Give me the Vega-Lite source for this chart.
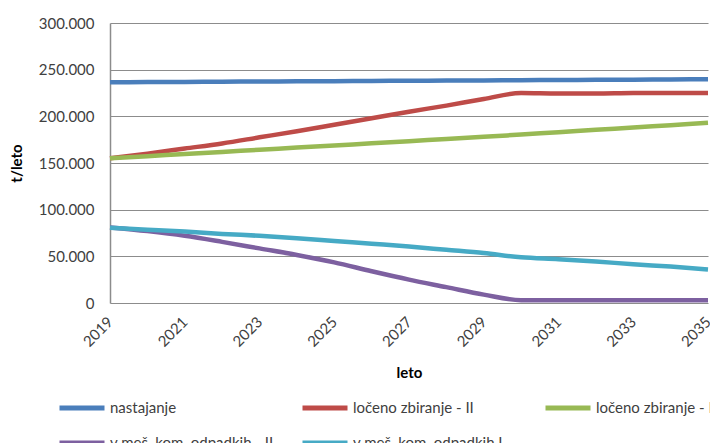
{
  "$schema": "https://vega.github.io/schema/vega-lite/v6.json",
  "width": 598,
  "height": 280,
  "autosize": {"type": "none"},
  "padding": {"left": 110, "top": 23, "right": 2, "bottom": 140},
  "background": "white",
  "config": {
    "font": "Lato",
    "view": {"stroke": null},
    "axis": {"labelFont": "Lato", "titleFont": "Lato", "labelColor": "#404040", "titleColor": "#000000"}
  },
  "datasets": {
    "d": [
      {"leto": 2019, "s": "nastajanje", "v": 236500},
      {"leto": 2020, "s": "nastajanje", "v": 236700},
      {"leto": 2021, "s": "nastajanje", "v": 236900},
      {"leto": 2022, "s": "nastajanje", "v": 237100},
      {"leto": 2023, "s": "nastajanje", "v": 237300},
      {"leto": 2024, "s": "nastajanje", "v": 237500},
      {"leto": 2025, "s": "nastajanje", "v": 237700},
      {"leto": 2026, "s": "nastajanje", "v": 237900},
      {"leto": 2027, "s": "nastajanje", "v": 238100},
      {"leto": 2028, "s": "nastajanje", "v": 238300},
      {"leto": 2029, "s": "nastajanje", "v": 238500},
      {"leto": 2030, "s": "nastajanje", "v": 238700},
      {"leto": 2031, "s": "nastajanje", "v": 238900},
      {"leto": 2032, "s": "nastajanje", "v": 239100},
      {"leto": 2033, "s": "nastajanje", "v": 239300},
      {"leto": 2034, "s": "nastajanje", "v": 239500},
      {"leto": 2035, "s": "nastajanje", "v": 239800},
      {"leto": 2019, "s": "ločeno zbiranje - II", "v": 155000},
      {"leto": 2020, "s": "ločeno zbiranje - II", "v": 160000},
      {"leto": 2021, "s": "ločeno zbiranje - II", "v": 165500},
      {"leto": 2022, "s": "ločeno zbiranje - II", "v": 171000},
      {"leto": 2023, "s": "ločeno zbiranje - II", "v": 177500},
      {"leto": 2024, "s": "ločeno zbiranje - II", "v": 184000},
      {"leto": 2025, "s": "ločeno zbiranje - II", "v": 191000},
      {"leto": 2026, "s": "ločeno zbiranje - II", "v": 198000},
      {"leto": 2027, "s": "ločeno zbiranje - II", "v": 205000},
      {"leto": 2028, "s": "ločeno zbiranje - II", "v": 211500},
      {"leto": 2029, "s": "ločeno zbiranje - II", "v": 218500},
      {"leto": 2030, "s": "ločeno zbiranje - II", "v": 225000},
      {"leto": 2031, "s": "ločeno zbiranje - II", "v": 224500},
      {"leto": 2032, "s": "ločeno zbiranje - II", "v": 224500},
      {"leto": 2033, "s": "ločeno zbiranje - II", "v": 225000},
      {"leto": 2034, "s": "ločeno zbiranje - II", "v": 225000},
      {"leto": 2035, "s": "ločeno zbiranje - II", "v": 225000},
      {"leto": 2019, "s": "ločeno zbiranje - I", "v": 155000},
      {"leto": 2020, "s": "ločeno zbiranje - I", "v": 157300},
      {"leto": 2021, "s": "ločeno zbiranje - I", "v": 159600},
      {"leto": 2022, "s": "ločeno zbiranje - I", "v": 161900},
      {"leto": 2023, "s": "ločeno zbiranje - I", "v": 164200},
      {"leto": 2024, "s": "ločeno zbiranje - I", "v": 166500},
      {"leto": 2025, "s": "ločeno zbiranje - I", "v": 168800},
      {"leto": 2026, "s": "ločeno zbiranje - I", "v": 171100},
      {"leto": 2027, "s": "ločeno zbiranje - I", "v": 173400},
      {"leto": 2028, "s": "ločeno zbiranje - I", "v": 175700},
      {"leto": 2029, "s": "ločeno zbiranje - I", "v": 178000},
      {"leto": 2030, "s": "ločeno zbiranje - I", "v": 180500},
      {"leto": 2031, "s": "ločeno zbiranje - I", "v": 183000},
      {"leto": 2032, "s": "ločeno zbiranje - I", "v": 185500},
      {"leto": 2033, "s": "ločeno zbiranje - I", "v": 188000},
      {"leto": 2034, "s": "ločeno zbiranje - I", "v": 190500},
      {"leto": 2035, "s": "ločeno zbiranje - I", "v": 193000},
      {"leto": 2019, "s": "v meš. kom. odpadkih - II", "v": 81000},
      {"leto": 2020, "s": "v meš. kom. odpadkih - II", "v": 77000},
      {"leto": 2021, "s": "v meš. kom. odpadkih - II", "v": 72000},
      {"leto": 2022, "s": "v meš. kom. odpadkih - II", "v": 65500},
      {"leto": 2023, "s": "v meš. kom. odpadkih - II", "v": 58500},
      {"leto": 2024, "s": "v meš. kom. odpadkih - II", "v": 51500},
      {"leto": 2025, "s": "v meš. kom. odpadkih - II", "v": 43500},
      {"leto": 2026, "s": "v meš. kom. odpadkih - II", "v": 34000},
      {"leto": 2027, "s": "v meš. kom. odpadkih - II", "v": 25000},
      {"leto": 2028, "s": "v meš. kom. odpadkih - II", "v": 17000},
      {"leto": 2029, "s": "v meš. kom. odpadkih - II", "v": 9000},
      {"leto": 2030, "s": "v meš. kom. odpadkih - II", "v": 3000},
      {"leto": 2031, "s": "v meš. kom. odpadkih - II", "v": 3000},
      {"leto": 2032, "s": "v meš. kom. odpadkih - II", "v": 3000},
      {"leto": 2033, "s": "v meš. kom. odpadkih - II", "v": 3000},
      {"leto": 2034, "s": "v meš. kom. odpadkih - II", "v": 3000},
      {"leto": 2035, "s": "v meš. kom. odpadkih - II", "v": 3000},
      {"leto": 2019, "s": "v meš. kom. odpadkih I", "v": 80500},
      {"leto": 2020, "s": "v meš. kom. odpadkih I", "v": 78500},
      {"leto": 2021, "s": "v meš. kom. odpadkih I", "v": 76500},
      {"leto": 2022, "s": "v meš. kom. odpadkih I", "v": 74000},
      {"leto": 2023, "s": "v meš. kom. odpadkih I", "v": 72000},
      {"leto": 2024, "s": "v meš. kom. odpadkih I", "v": 69500},
      {"leto": 2025, "s": "v meš. kom. odpadkih I", "v": 66500},
      {"leto": 2026, "s": "v meš. kom. odpadkih I", "v": 63500},
      {"leto": 2027, "s": "v meš. kom. odpadkih I", "v": 60500},
      {"leto": 2028, "s": "v meš. kom. odpadkih I", "v": 57000},
      {"leto": 2029, "s": "v meš. kom. odpadkih I", "v": 53500},
      {"leto": 2030, "s": "v meš. kom. odpadkih I", "v": 49000},
      {"leto": 2031, "s": "v meš. kom. odpadkih I", "v": 47000},
      {"leto": 2032, "s": "v meš. kom. odpadkih I", "v": 44500},
      {"leto": 2033, "s": "v meš. kom. odpadkih I", "v": 41500},
      {"leto": 2034, "s": "v meš. kom. odpadkih I", "v": 39000},
      {"leto": 2035, "s": "v meš. kom. odpadkih I", "v": 36000}
    ]
  },
  "data": {"name": "d"},
  "mark": {"type": "line", "strokeWidth": 4.5, "interpolate": "monotone", "clip": false},
  "encoding": {
    "x": {
      "field": "leto",
      "type": "quantitative",
      "scale": {"domain": [2019, 2035], "nice": false, "zero": false},
      "axis": {
        "title": "leto",
        "titleFontSize": 15,
        "titleFontWeight": "bold",
        "titlePadding": 16,
        "values": [2019, 2021, 2023, 2025, 2027, 2029, 2031, 2033, 2035],
        "format": "d",
        "labelAngle": -45,
        "labelAlign": "right",
        "labelBaseline": "middle",
        "labelFontSize": 15,
        "labelPadding": 16,
        "labelFlush": false,
        "labelOverlap": false,
        "ticks": false,
        "grid": false,
        "domain": false
      }
    },
    "y": {
      "field": "v",
      "type": "quantitative",
      "scale": {"domain": [0, 300000], "nice": false},
      "axis": {
        "title": "t/leto",
        "titleFontSize": 15,
        "titleFontWeight": "bold",
        "titlePadding": 14,
        "values": [0, 50000, 100000, 150000, 200000, 250000, 300000],
        "labelExpr": "replace(format(datum.value, ',.0f'), /,/g, '.')",
        "labelFontSize": 15,
        "labelPadding": 16,
        "ticks": false,
        "grid": true,
        "gridColor": "#8c8c8c",
        "gridWidth": 1.2,
        "domain": true,
        "domainColor": "#8c8c8c",
        "domainWidth": 1.5
      }
    },
    "color": {
      "field": "s",
      "type": "nominal",
      "sort": ["nastajanje", "ločeno zbiranje - II", "ločeno zbiranje - I", "v meš. kom. odpadkih - II", "v meš. kom. odpadkih I"],
      "scale": {
        "domain": ["nastajanje", "ločeno zbiranje - II", "ločeno zbiranje - I", "v meš. kom. odpadkih - II", "v meš. kom. odpadkih I"],
        "range": ["#4A7EBB", "#BE4B48", "#98B954", "#7D60A0", "#46AAC5"]
      },
      "legend": {
        "title": null,
        "orient": "none",
        "legendX": -53,
        "legendY": 360,
        "direction": "horizontal",
        "columns": 3,
        "gridAlign": "all",
        "columnPadding": 18,
        "rowPadding": -12,
        "symbolType": "stroke",
        "symbolSize": 2025,
        "symbolStrokeWidth": 5,
        "labelFont": "Lato",
        "labelFontSize": 15,
        "labelColor": "#404040",
        "labelOffset": 3,
        "labelLimit": 300
      }
    }
  }
}
